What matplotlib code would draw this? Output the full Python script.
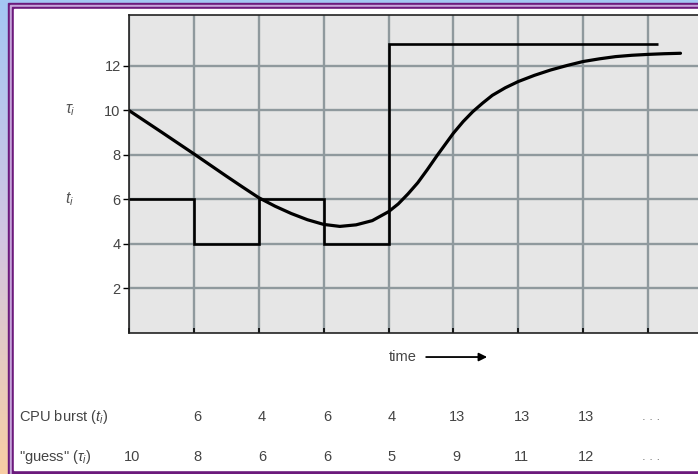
import numpy as np
import matplotlib
matplotlib.use("Agg")
import matplotlib.pyplot as plt
from matplotlib.colors import LinearSegmentedColormap
from matplotlib.patches import Rectangle
from matplotlib.transforms import blended_transform_factory

plt.rcParams['font.family'] = ['Liberation Sans', 'DejaVu Sans']
plt.rcParams['mathtext.fontset'] = 'custom'
plt.rcParams['mathtext.rm'] = 'Liberation Sans'
plt.rcParams['mathtext.it'] = 'Liberation Sans:italic'

# valores
burst_edges = [0, 1, 2, 3, 4, 5, 6, 7, 8.15]
burst_values = [6, 4, 6, 4, 13, 13, 13, 13]

curve_x = [0, 0.5, 1, 1.5, 1.75, 2, 2.25, 2.5, 2.75, 3, 3.25, 3.5, 3.75, 4, 4.15,
           4.3, 4.45, 4.6, 4.75, 4.9, 5, 5.15, 5.3, 5.45, 5.6, 5.8, 6, 6.25, 6.5,
           6.75, 7, 7.25, 7.5, 7.75, 8, 8.25, 8.5]
curve_y = [10, 9.03, 8.05, 7.05, 6.56, 6.08, 5.70, 5.37, 5.09, 4.88, 4.79, 4.86, 5.05, 5.45, 5.80,
           6.25, 6.75, 7.35, 7.98, 8.58, 8.98, 9.5, 9.95, 10.33, 10.68, 11.02, 11.3, 11.58, 11.82,
           12.02, 12.2, 12.32, 12.42, 12.48, 12.52, 12.55, 12.57]

y_ticks = [2, 4, 6, 8, 10, 12]
burst_row = ['', '6', '4', '6', '4', '13', '13', '13', '. . .']
guess_row = ['10', '8', '6', '6', '5', '9', '11', '12', '. . .']

W, H = 698, 474
fig = plt.figure(figsize=(W / 100, H / 100), dpi=100)

# fundo com degradê e moldura roxa
bg = fig.add_axes([0, 0, 1, 1])
bg.set_xlim(0, W)
bg.set_ylim(H, 0)
bg.axis('off')
cmap = LinearSegmentedColormap.from_list('bg', ['#a4c8f4', '#d2c6e2', '#f8cea4'])
bg.imshow(np.linspace(0, 1, 256).reshape(-1, 1), cmap=cmap, aspect='auto',
          extent=[0, W, H, 0])
bg.add_patch(Rectangle((8, 3), 720, 480, color='#6c1a7c'))
bg.add_patch(Rectangle((10, 5), 720, 480, color='#c6a6da'))
bg.add_patch(Rectangle((12, 7), 720, 480, color='#6c1a7c'))
bg.add_patch(Rectangle((14, 9), 720, 461, color='white'))

# gráfico principal
ax = fig.add_axes([129 / W, (H - 333) / H, 569 / W, 318 / H])
ax.set_facecolor('#e6e6e6')
ax.set_xlim(0, 8.77)
ax.set_ylim(0, 14.29)
ax.set_xticks(range(0, 9))
ax.set_xticklabels([])
ax.set_yticks(y_ticks)
ax.set_yticklabels([str(v) for v in y_ticks], color='#444444', fontsize=10.5)
ax.tick_params(axis='y', direction='out', length=4.5, width=1, pad=1.5)
ax.tick_params(axis='x', direction='in', length=3.5, width=1.2)
ax.grid(True, color='#8f999d', linewidth=1.7)
ax.set_axisbelow(True)
for s in ['left', 'bottom', 'top']:
    ax.spines[s].set_color('#222222')
    ax.spines[s].set_linewidth(1.2)
ax.spines['right'].set_visible(False)

ax.stairs(burst_values, burst_edges, baseline=None, color='black', linewidth=1.9)
ax.plot(curve_x, curve_y, color='black', linewidth=2.3,
        solid_capstyle='round', solid_joinstyle='round')

# rótulos do eixo y
tl = blended_transform_factory(fig.transFigure, ax.transData)
ax.text(70 / W, 10, r'$\tau_i$', transform=tl, ha='center', va='center',
        color='#555555', fontsize=11.5)
ax.text(70 / W, 6, r'$t_i$', transform=tl, ha='center', va='center',
        color='#555555', fontsize=11.5)

# seta do tempo
ax.text(4.0, -1.08, 'time', ha='left', va='center', color='#444444',
        fontsize=10.5, clip_on=False)
ax.annotate('', xy=(5.52, -1.08), xytext=(4.58, -1.08), annotation_clip=False,
            arrowprops=dict(arrowstyle='-|>', color='black', lw=1.3,
                            mutation_scale=12, shrinkA=0, shrinkB=0))

# tabela embaixo
tr = blended_transform_factory(ax.transData, fig.transFigure)
row_y = [(H - 417) / H, (H - 457) / H]
fig.text(19 / W, row_y[0], r'CPU burst ($t_i$)', ha='left', va='center',
         color='#444444', fontsize=10.5)
fig.text(19 / W, row_y[1], '"guess" ($\\tau_i$)', ha='left', va='center',
         color='#444444', fontsize=10.5)
for i, (b, g) in enumerate(zip(burst_row, guess_row)):
    for txt, yy in ((b, row_y[0]), (g, row_y[1])):
        dots = txt.startswith('.')
        ax.text(i + 0.05, yy, txt, transform=tr, ha='center', va='center',
                color='#7a7a7a' if dots else '#444444',
                fontsize=9.5 if dots else 10.5, clip_on=False)

fig.savefig('out.png', dpi=100)
